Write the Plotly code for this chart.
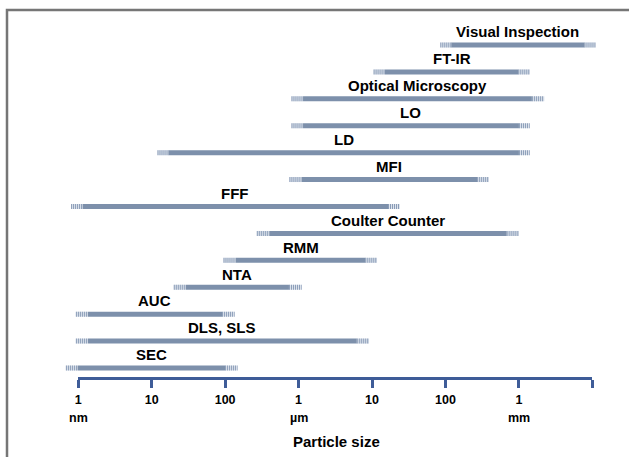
import math
import plotly.graph_objects as go

# ---------------- data ----------------
methods = ["Visual Inspection", "FT-IR", "Optical Microscopy", "LO", "LD", "MFI", "FFF",
           "Coulter Counter", "RMM", "NTA", "AUC", "DLS, SLS", "SEC"]
# size ranges in nm (hatched extension start, solid start, solid end, hatched extension end)
ext_low = [85000, 10500, 800, 800, 12, 750, 0.8, 270, 95, 20, 0.93, 0.93, 0.68]
solid_low = [120000, 15000, 1150, 1150, 17, 1100, 1.15, 400, 140, 29, 1.35, 1.35, 0.98]
solid_high = [7.8e6, 9.8e5, 1.5e6, 1.0e6, 1.0e6, 2.7e5, 16500, 6.8e5, 8100, 740, 91, 6200, 100]
ext_high = [1.1e7, 1.4e6, 2.2e6, 1.4e6, 1.4e6, 3.9e5, 24000, 1.0e6, 11700, 1100, 135, 9100, 148]

tick_vals = [1, 10, 100, 1e3, 1e4, 1e5, 1e6, 1e7]
tick_labels = ["1", "10", "100", "1", "10", "100", "1", ""]
unit_vals = [1, 1e3, 1e6]
unit_labels = ["nm", "µm", "mm"]

# ---------------- style ----------------
SOLID = "rgb(125,144,171)"
HATCH_BG = "rgb(222,228,237)"
HATCH_FG = "rgb(138,156,183)"
AXIS = "rgb(62,92,152)"
FONT = "Liberation Sans, Arial, sans-serif"
LW = 5

n = len(methods)
rows = [n - 1 - k for k in range(n)]


def segs(a, b):
    xs, ys = [], []
    for lo, hi, r in zip(a, b, rows):
        xs += [lo, hi, None]
        ys += [r, r, None]
    return xs, ys


fig = go.Figure()

# hatched extensions: light background + striped dash on top
for a, b in ((ext_low, solid_low), (solid_high, ext_high)):
    xs, ys = segs(a, b)
    fig.add_trace(go.Scatter(x=xs, y=ys, mode="lines",
                             line=dict(color=HATCH_BG, width=LW),
                             hoverinfo="skip", showlegend=False))
    fig.add_trace(go.Scatter(x=xs, y=ys, mode="lines",
                             line=dict(color=HATCH_FG, width=LW, dash="1px,1px"),
                             hoverinfo="skip", showlegend=False))

# solid part
xs, ys = segs(solid_low, solid_high)
fig.add_trace(go.Scatter(x=xs, y=ys, mode="lines",
                         line=dict(color=SOLID, width=LW),
                         hoverinfo="skip", showlegend=False))

# invisible trace to hold the scale axis
fig.add_trace(go.Scatter(x=[1, 1e7], y=[0, 0], xaxis="x2", yaxis="y", mode="markers",
                         marker=dict(opacity=0), hoverinfo="skip", showlegend=False))

annotations = []
for m, lo, hi, r in zip(methods, solid_low, solid_high, rows):
    annotations.append(dict(
        x=(math.log10(lo) + math.log10(hi)) / 2, xref="x", y=r + 0.49, yref="y",
        text=m, showarrow=False, xanchor="center", yanchor="middle",
        font=dict(family=FONT, size=15, color="black", weight="bold")))
for v, u in zip(unit_vals, unit_labels):
    annotations.append(dict(
        x=math.log10(v), xref="x2", y=-0.1117, yref="paper", text=u, showarrow=False,
        xanchor="center", yanchor="middle",
        font=dict(family=FONT, size=12.5, color="black", weight="bold")))
annotations.append(dict(
    x=0.521, xref="paper", y=-0.1744, yref="paper", text="Particle size", showarrow=False,
    xanchor="center", yanchor="middle",
    font=dict(family=FONT, size=15, color="black", weight="bold")))

L, R, T, B = 40, 20, 10, 80
W, H = 629, 457
pw = W - L - R

fig.update_layout(
    width=W, height=H,
    margin=dict(l=L, r=R, t=T, b=B, pad=0),
    paper_bgcolor="white", plot_bgcolor="rgba(0,0,0,0)",
    showlegend=False,
    xaxis=dict(type="log", range=[-0.52, 7.226], visible=False, fixedrange=True),
    xaxis2=dict(type="log", range=[0, 7], anchor="y", side="bottom",
                domain=[(78.2 - L) / pw, (592.4 - L) / pw],
                showline=True, linewidth=3, linecolor=AXIS,
                ticks="outside", ticklen=8, tickwidth=3, tickcolor=AXIS,
                tickvals=tick_vals, ticktext=tick_labels, ticklabelstandoff=1,
                tickfont=dict(family=FONT, size=12.5, color="black", weight="bold"),
                showgrid=False, zeroline=False, fixedrange=True),
    yaxis=dict(range=[-0.334, 13.30], visible=False, fixedrange=True),
    annotations=annotations,
    shapes=[dict(type="rect", xref="paper", yref="paper",
                 x0=(7 - L) / pw, x1=1.2, y0=-0.5, y1=1.0,
                 line=dict(color="rgb(118,118,118)", width=2.5), fillcolor="rgba(0,0,0,0)",
                 layer="below")],
)

fig.write_html("out.html", config={"displayModeBar": False},
               post_script="document.body.style.margin='0';")
